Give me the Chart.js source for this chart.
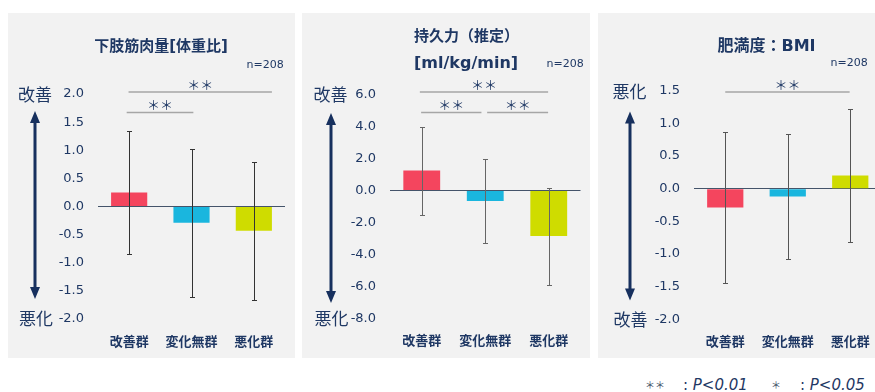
<!DOCTYPE html>
<html>
<head>
<meta charset="utf-8">
<script src="https://cdn.jsdelivr.net/npm/chart.js@4.4.0/dist/chart.umd.min.js"></script>
<style>
  html, body { margin: 0; padding: 0; overflow: hidden; }
  body { width: 875px; height: 392px; position: relative; background: #fff; font-family: "DejaVu Sans", "Noto Sans CJK JP", sans-serif; }
  .panel { position: absolute; top: 13px; height: 345px; background: #f2f2f2; }
  .panel canvas { display: block; }
  .note { position: absolute; top: 376px; line-height: 18px; color: #1f3864; font-size: 15px; white-space: nowrap; }
  .note i { font-style: italic; }
  .ast { font-family: "Noto Sans CJK JP"; font-size: 10px; color: #44546a; }
</style>
</head>
<body>
<div class="panel" style="left:8px;width:287px"><canvas id="c1" width="287" height="345"></canvas></div>
<div class="panel" style="left:302px;width:288px"><canvas id="c2" width="288" height="345"></canvas></div>
<div class="panel" style="left:598px;width:288px"><canvas id="c3" width="288" height="345"></canvas></div>
<span class="note ast" style="left:645px">＊＊</span>
<span class="note" style="left:683px">: <i>P&lt;0.01</i></span>
<span class="note ast" style="left:771px">＊</span>
<span class="note" style="left:800px">: <i>P&lt;0.05</i></span>

<script>
// groups
var categories = ['改善群', '変化無群', '悪化群'];
var barColors = ['#f4455e', '#1ab6de', '#cfdc00'];

// 下肢筋肉量 [体重比] : mean / SD
var muscleMean = [0.25, -0.29, -0.43];
var muscleSd = [1.10, 1.32, 1.23];
var muscleTicks = [2.0, 1.5, 1.0, 0.5, 0.0, -0.5, -1.0, -1.5, -2.0];

// 持久力 (推定) [ml/kg/min]
var enduranceMean = [1.25, -0.65, -2.85];
var enduranceSd = [2.75, 2.60, 3.03];
var enduranceTicks = [6.0, 4.0, 2.0, 0.0, -2.0, -4.0, -6.0, -8.0];

// 肥満度 BMI
var bmiMean = [-0.29, -0.12, 0.20];
var bmiSd = [1.16, 0.95, 1.02];
var bmiTicks = [1.5, 1.0, 0.5, 0.0, -0.5, -1.0, -1.5, -2.0];

// significance bars: [from group, to group, level]
var muscleSig = [[-0.04, 1.03, 'low'], [-0.01, 2.29, 'high']];
var enduranceSig = [[-0.03, 1.99, 'high'], [-0.01, 0.94, 'low'], [1.03, 1.99, 'low']];
var bmiSig = [[0.0, 1.99, 'high']];

var navy = '#1f3864';

function makePanel(id, means, sds, ticks, sig, cfg) {
  var decor = {
    id: 'decor',
    afterDatasetsDraw: function(chart) {
      var ctx = chart.ctx;
      var y = chart.scales.y;
      var x = chart.scales.x;
      var meta = chart.getDatasetMeta(0);
      ctx.save();

      // error bars
      ctx.strokeStyle = cfg.errColor;
      ctx.lineWidth = 1;
      meta.data.forEach(function(bar, i) {
        var top = Math.round(y.getPixelForValue(means[i] + sds[i])) + 0.5;
        var bot = Math.round(y.getPixelForValue(means[i] - sds[i])) + 0.5;
        var bx = Math.round(bar.x) + 0.5;
        ctx.beginPath();
        ctx.moveTo(bx, top); ctx.lineTo(bx, bot);
        ctx.moveTo(bx - 2.5, top); ctx.lineTo(bx + 2.5, top);
        ctx.moveTo(bx - 2.5, bot); ctx.lineTo(bx + 2.5, bot);
        ctx.stroke();
      });

      // significance bars
      var c0 = x.getPixelForValue(0), step = x.getPixelForValue(1) - c0;
      sig.forEach(function(s) {
        var x1 = c0 + s[0] * step, x2 = c0 + s[1] * step;
        var ly = s[2] === 'high' ? 79 : 99.5;
        ctx.strokeStyle = '#a6a6a6';
        ctx.lineWidth = 1.5;
        ctx.beginPath();
        ctx.moveTo(x1, ly); ctx.lineTo(x2, ly);
        ctx.stroke();
        ctx.fillStyle = navy;
        ctx.font = '13px "Noto Sans CJK JP"';
        ctx.textAlign = 'center';
        ctx.textBaseline = 'middle';
        ctx.fillText('＊＊', (x1 + x2) / 2, ly - 7);
      });

      // titles
      ctx.fillStyle = navy;
      ctx.textBaseline = 'middle';
      cfg.title.forEach(function(t) {
        ctx.font = 'bold ' + t.size + 'px "DejaVu Sans", "Noto Sans CJK JP"';
        ctx.textAlign = t.align;
        ctx.fillText(t.text, t.x, t.y);
      });
      ctx.font = '11px "DejaVu Sans"';
      ctx.textAlign = 'left';
      ctx.fillText('n=208', cfg.nX, cfg.nY);

      // side labels
      ctx.font = '17px "Noto Sans CJK JP"';
      ctx.textAlign = 'center';
      ctx.fillText(cfg.sideTop, cfg.sideX, y.top + 0.5);
      ctx.fillText(cfg.sideBottom, cfg.sideX + 1, y.bottom);

      // double arrow
      var ax = cfg.arrowX, t1 = cfg.arrowTop, t2 = cfg.arrowBottom;
      ctx.strokeStyle = '#17305e';
      ctx.fillStyle = '#17305e';
      ctx.lineWidth = 3;
      ctx.beginPath();
      ctx.moveTo(ax, t1 + 8); ctx.lineTo(ax, t2 - 8);
      ctx.stroke();
      ctx.beginPath();
      ctx.moveTo(ax, t1); ctx.lineTo(ax - 5, t1 + 12); ctx.lineTo(ax + 5, t1 + 12); ctx.closePath();
      ctx.moveTo(ax, t2); ctx.lineTo(ax - 5, t2 - 12); ctx.lineTo(ax + 5, t2 - 12); ctx.closePath();
      ctx.fill();

      ctx.restore();
    }
  };

  return new Chart(document.getElementById(id).getContext('2d'), {
    type: 'bar',
    data: {
      labels: categories,
      datasets: [{
        data: means,
        backgroundColor: barColors,
        borderWidth: 0,
        barPercentage: 0.58,
        categoryPercentage: 1
      }]
    },
    options: {
      responsive: false,
      animation: false,
      devicePixelRatio: 1,
      layout: { padding: { top: cfg.top, right: cfg.right, left: 0, bottom: 0 } },
      plugins: { legend: { display: false }, tooltip: { enabled: false } },
      scales: {
        x: {
          grid: { display: false },
          border: { display: false },
          ticks: { color: navy, padding: 6, font: { family: '"Noto Sans CJK JP"', size: 13, weight: 'bold' } },
          afterFit: function(s) { s.height = 345 - cfg.bottom; }
        },
        y: {
          min: ticks[ticks.length - 1],
          max: ticks[0],
          afterBuildTicks: function(s) { s.ticks = ticks.map(function(v) { return { value: v }; }); },
          grid: {
            drawTicks: false,
            color: function(c) { return c.tick && c.tick.value === 0 ? '#44546a' : 'rgba(0,0,0,0)'; }
          },
          border: { display: false },
          ticks: {
            color: navy,
            padding: 14,
            font: { family: '"DejaVu Sans"', size: 13 },
            callback: function(v) { return Number(v).toFixed(1); }
          },
          afterFit: function(s) { s.width = cfg.left; }
        }
      }
    },
    plugins: [decor]
  });
}

makePanel('c1', muscleMean, muscleSd, muscleTicks, muscleSig, {
  left: 90, right: 10, top: 81, bottom: 306, errColor: '#333333',
  title: [{ text: '下肢筋肉量[体重比]', size: 15, x: 153, y: 34, align: 'center' }],
  nX: 238.5, nY: 52,
  sideTop: '改善', sideBottom: '悪化', sideX: 27,
  arrowX: 27, arrowTop: 98, arrowBottom: 286
});

makePanel('c2', enduranceMean, enduranceSd, enduranceTicks, enduranceSig, {
  left: 88, right: 9.5, top: 81.5, bottom: 305.5, errColor: '#666666',
  title: [
    { text: '持久力（推定）', size: 15, x: 112, y: 24, align: 'left' },
    { text: '[ml/kg/min]', size: 16, x: 112, y: 50.5, align: 'left' }
  ],
  nX: 244.5, nY: 51.5,
  sideTop: '改善', sideBottom: '悪化', sideX: 28.5,
  arrowX: 29, arrowTop: 100, arrowBottom: 290
});

makePanel('c3', bmiMean, bmiSd, bmiTicks, bmiSig, {
  left: 96, right: 4.5, top: 77.7, bottom: 306.3, errColor: '#555555',
  title: [{ text: '肥満度：BMI', size: 16, x: 168.5, y: 34, align: 'center' }],
  nX: 232.5, nY: 50.5,
  sideTop: '悪化', sideBottom: '改善', sideX: 31.5,
  arrowX: 32, arrowTop: 98.5, arrowBottom: 287.5
});
</script>
</body>
</html>
